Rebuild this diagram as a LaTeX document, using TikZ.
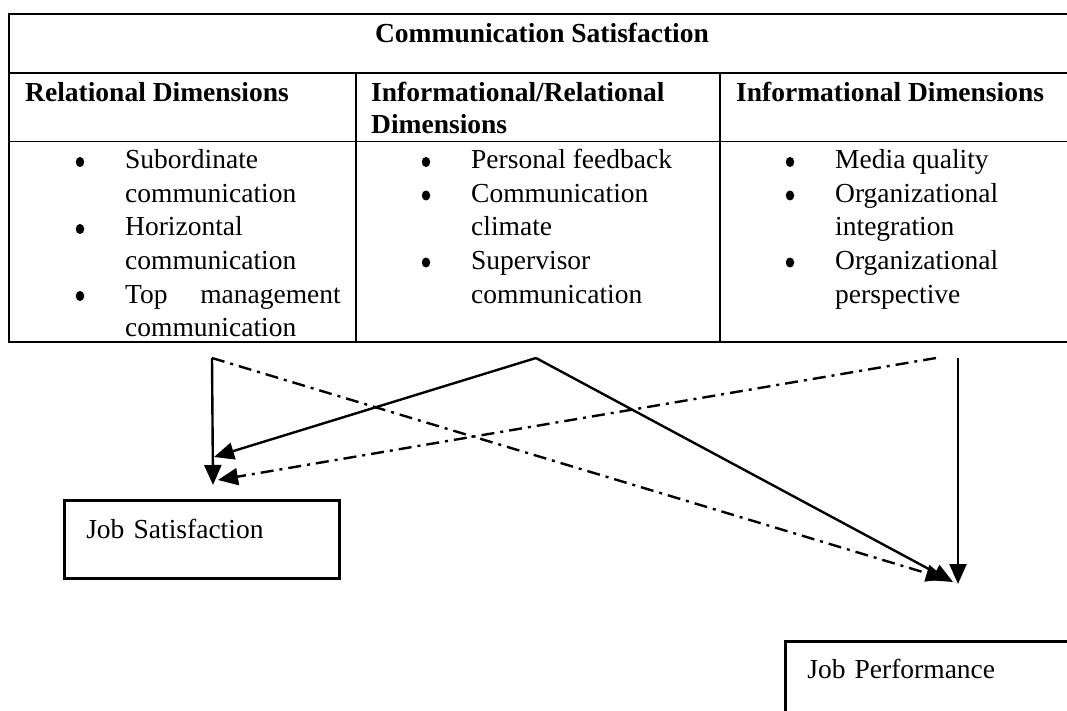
\documentclass[tikz,border=0pt]{standalone}
\usepackage{fontspec}
\setmainfont{Liberation Serif}
\usetikzlibrary{arrows.meta,shapes.geometric}
\tikzset{
  rule/.style={line width=1.4pt, line cap=rect},
  txt/.style={anchor=base west, inner sep=0pt, font=\fontsize{27.5}{33.5}\selectfont},
  hdr/.style={txt, font=\fontsize{27.5}{33.5}\selectfont\bfseries},
  bul/.style={ellipse, fill, inner sep=0pt, minimum width=8.5pt, minimum height=10pt},
  outbox/.style={draw, line width=2.6pt, anchor=north west, align=left, inner xsep=22pt,
    font=\fontsize{27.5}{33.5}\selectfont},
  link/.style={line width=2.4pt, -{Triangle[length=20pt,width=17pt]}},
  dlink/.style={link, dash pattern=on 13pt off 6pt on 3pt off 6pt},
}
\begin{document}
\begin{tikzpicture}[x=1pt,y=-1pt]
\useasboundingbox (0,0) rectangle (1067,711);
\clip (0,0) rectangle (1067,711);
% table
\draw[rule] (9,14) -- (1080,14);
\draw[rule] (9,73) -- (1080,73);
\draw[rule] (9,141.5) -- (1080,141.5);
\draw[rule] (9,342) -- (1080,342);
\draw[rule] (9,14) -- (9,342);
\draw[rule] (356,73) -- (356,342);
\draw[rule] (720,73) -- (720,342);
% header texts
\node[hdr, anchor=base] (cs) at (542,43) {Communication Satisfaction};
\node[hdr] (h1) at (25,102) {Relational Dimensions};
\node[hdr] (h2a) at (371,102) {Informational/Relational};
\node[hdr] (h2b) at (371,134) {Dimensions};
\node[hdr] (h3) at (736,102) {Informational Dimensions};
% column 1
\node[bul] (b11) at (80,162) {};
\node[txt] (t11) at (125,169) {Subordinate};
\node[txt] (t12) at (125,202.5) {communication};
\node[bul] (b12) at (80,229) {};
\node[txt] (t13) at (125,236) {Horizontal};
\node[txt] (t14) at (125,269.5) {communication};
\node[bul] (b13) at (80,296) {};
\node[txt] (t15a) at (125,303) {Top};
\node[txt, anchor=base east] (t15b) at (341,303) {management};
\node[txt] (t16) at (125,336.5) {communication};
% column 2
\node[bul] (b21) at (426,162) {};
\node[txt] (t21) at (471,169) {Personal feedback};
\node[bul] (b22) at (426,195.5) {};
\node[txt] (t22) at (471,202.5) {Communication};
\node[txt] (t23) at (471,236) {climate};
\node[bul] (b23) at (426,262.5) {};
\node[txt] (t24) at (471,269.5) {Supervisor};
\node[txt] (t25) at (471,303) {communication};
% column 3
\node[bul] (b31) at (790,162) {};
\node[txt] (t31) at (835,169) {Media quality};
\node[bul] (b32) at (790,195.5) {};
\node[txt] (t32) at (835,202.5) {Organizational};
\node[txt] (t33) at (835,236) {integration};
\node[bul] (b33) at (790,262.5) {};
\node[txt] (t34) at (835,269.5) {Organizational};
\node[txt] (t35) at (835,303) {perspective};
% outcome boxes
\node[outbox, text width=231pt, minimum height=78pt, inner ysep=19pt,
  text height=19pt, text depth=21pt] (js) at (63,499) {Job Satisfaction};
\node[outbox, text width=276pt, minimum height=100pt, inner ysep=18pt,
  text height=19pt, text depth=60pt] (jp) at (784,640) {Job Performance};
% connector ends
\coordinate (rel) at (212,358);
\coordinate (mix) at (536,358);
\coordinate (infL) at (936,358);
\coordinate (infR) at (958,358);
\coordinate (jsA) at (213,485);
\coordinate (jsB) at (214,457);
\coordinate (jsC) at (218,480);
\coordinate (jpA) at (946,579);
\coordinate (jpB) at (953,582);
\coordinate (jpC) at (958,584);
% connectors
\draw[link] (rel) -- (jsA);
\draw[link] (mix) -- (jsB);
\draw[dlink] (infL) -- (jsC);
\draw[dlink] (rel) -- (jpA);
\draw[link] (mix) -- (jpB);
\draw[link] (infR) -- (jpC);
\end{tikzpicture}
\end{document}
